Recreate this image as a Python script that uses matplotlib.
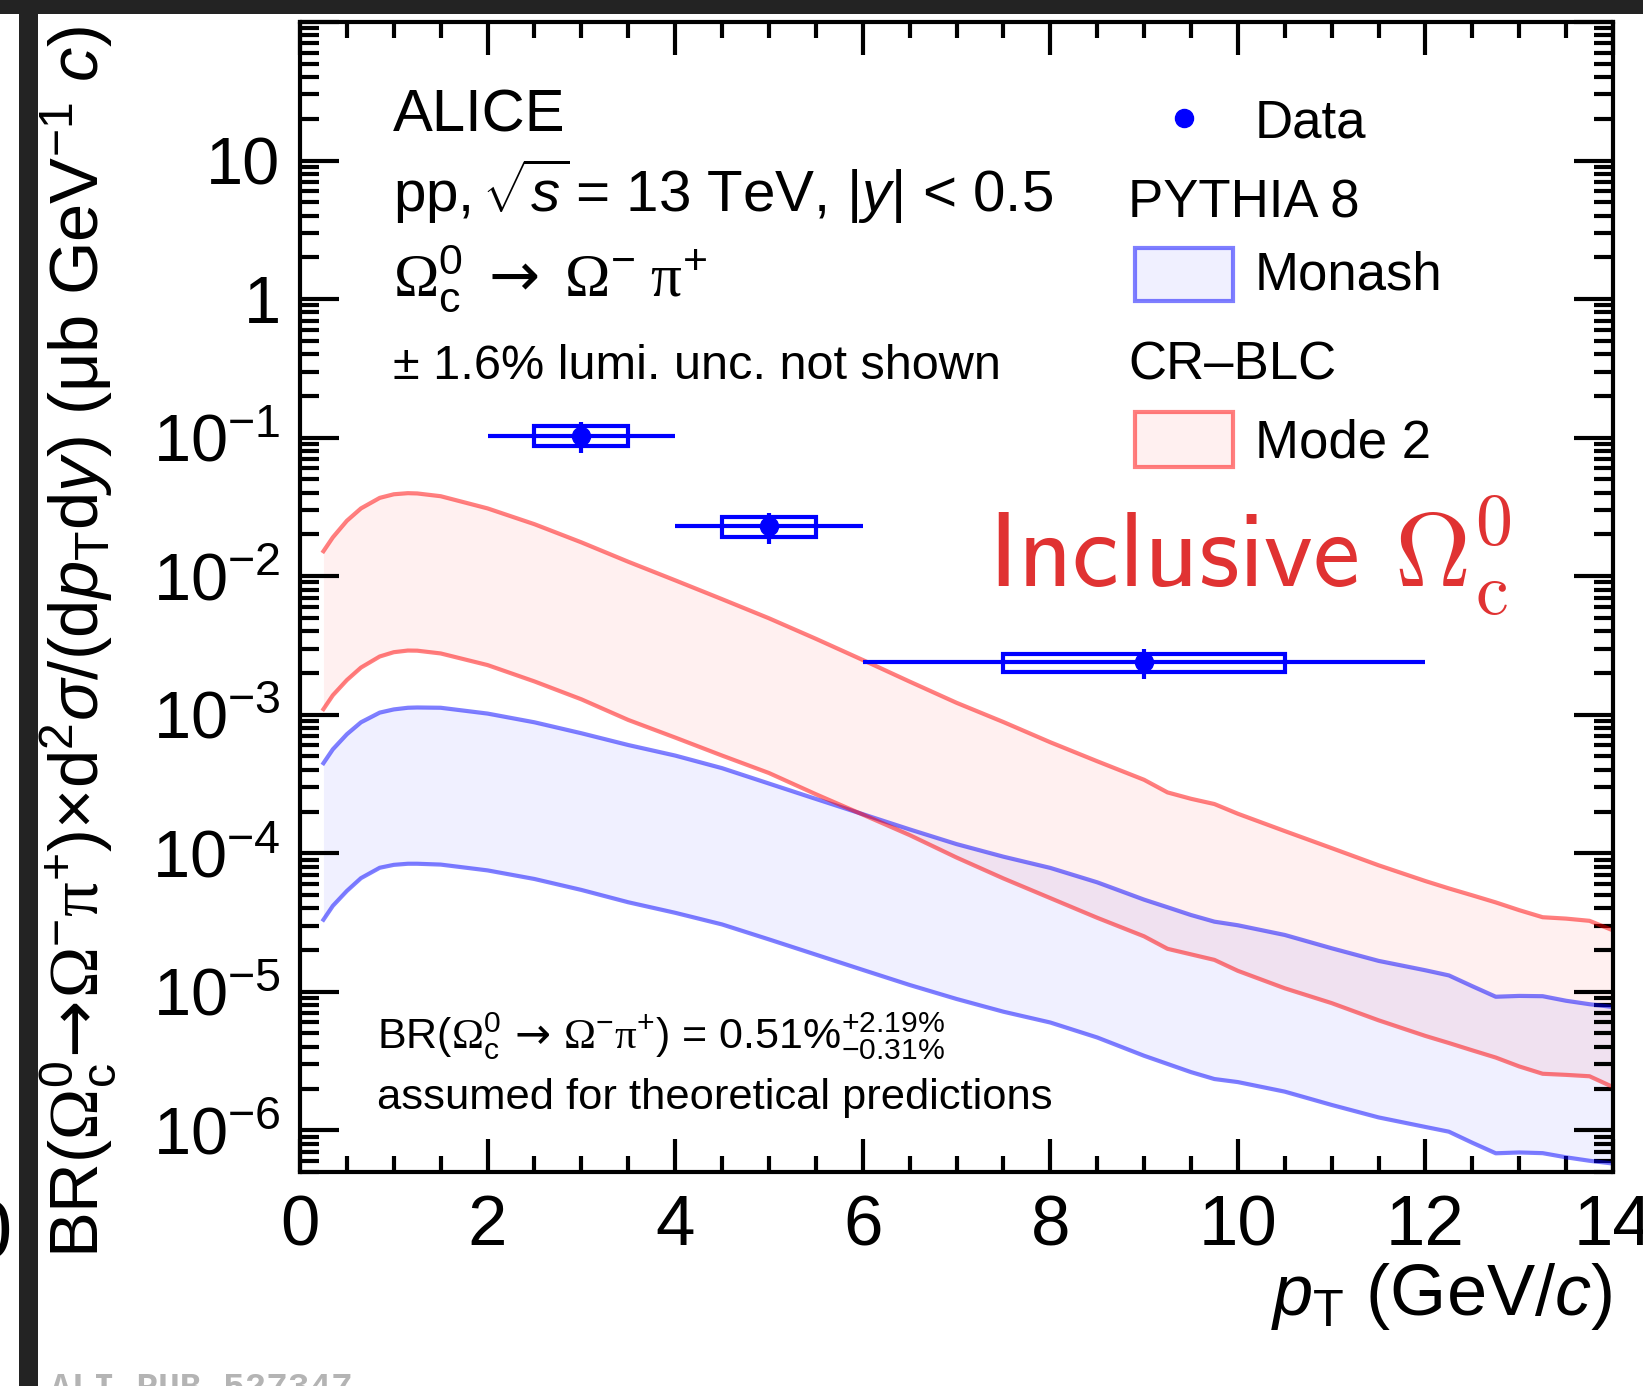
import numpy as np
import matplotlib
matplotlib.use("Agg")
import matplotlib.pyplot as plt
from matplotlib.patches import Rectangle
from matplotlib.ticker import FixedLocator, FuncFormatter, LogLocator, NullFormatter

plt.rcParams['font.family'] = ['Liberation Sans', 'DejaVu Sans']
plt.rcParams['mathtext.fontset'] = 'custom'
plt.rcParams['mathtext.rm'] = 'Liberation Serif'
plt.rcParams['mathtext.sf'] = 'Liberation Sans'
plt.rcParams['mathtext.it'] = 'Liberation Sans:italic'
plt.rcParams['mathtext.bf'] = 'Liberation Sans:bold'
plt.rcParams['mathtext.cal'] = 'DejaVu Sans'
plt.rcParams['mathtext.default'] = 'sf'

# ---------------- data ----------------
data_pt = [3.0, 5.0, 9.0]
data_pt_lo = [2.0, 4.0, 6.0]
data_pt_hi = [4.0, 6.0, 12.0]
data_val = [0.1035, 0.0229, 0.0024]
data_stat = [0.026, 0.0057, 0.0006]
data_syst = [0.017, 0.0037, 0.00036]
data_syst_halfwidth = [0.5, 0.5, 1.5]

model_pt = [0.25, 0.35, 0.5, 0.65, 0.85, 1.0, 1.15, 1.25, 1.5, 2.0, 2.5, 3.0, 3.5,
            4.0, 4.5, 5.0, 5.5, 6.0, 6.5, 7.0, 7.5, 8.0, 8.5, 9.0, 9.25, 9.5,
            9.75, 10.0, 10.5, 11.0, 11.5, 12.0, 12.25, 12.5, 12.75, 13.0, 13.25,
            13.5, 13.75, 14.0]
# log10 of the cross section
crblc_hi_log10 = [-1.82, -1.72, -1.60, -1.511, -1.435, -1.409, -1.401, -1.403, -1.423,
                  -1.511, -1.625, -1.756, -1.896, -2.030, -2.166, -2.304, -2.452,
                  -2.605, -2.761, -2.914, -3.053, -3.199, -3.336, -3.470, -3.561,
                  -3.607, -3.645, -3.715, -3.840, -3.963, -4.087, -4.201, -4.254,
                  -4.304, -4.355, -4.411, -4.462, -4.472, -4.488, -4.557]
crblc_lo_log10 = [-2.96, -2.86, -2.75, -2.66, -2.58, -2.549, -2.537, -2.538, -2.558,
                  -2.642, -2.760, -2.889, -3.038, -3.165, -3.295, -3.421, -3.574,
                  -3.721, -3.869, -4.031, -4.182, -4.324, -4.466, -4.600, -4.690,
                  -4.730, -4.770, -4.849, -4.975, -5.082, -5.206, -5.319, -5.370,
                  -5.423, -5.475, -5.539, -5.592, -5.600, -5.610, -5.688]
monash_hi_log10 = [-3.35, -3.25, -3.141, -3.055, -2.985, -2.962, -2.950, -2.948, -2.950,
                   -2.992, -3.055, -3.134, -3.219, -3.295, -3.386, -3.497, -3.608,
                   -3.718, -3.828, -3.934, -4.025, -4.106, -4.210, -4.335, -4.390,
                   -4.446, -4.494, -4.520, -4.590, -4.686, -4.777, -4.845, -4.882,
                   -4.960, -5.036, -5.030, -5.032, -5.065, -5.090, -5.110]
monash_lo_log10 = [-4.48, -4.38, -4.272, -4.180, -4.105, -4.084, -4.076, -4.076, -4.082,
                   -4.124, -4.186, -4.265, -4.354, -4.430, -4.514, -4.622, -4.732,
                   -4.842, -4.951, -5.052, -5.144, -5.222, -5.330, -5.462, -5.521,
                   -5.580, -5.630, -5.652, -5.721, -5.817, -5.907, -5.976, -6.010,
                   -6.090, -6.166, -6.160, -6.165, -6.195, -6.220, -6.240]

xtick_vals = [0, 2, 4, 6, 8, 10, 12, 14]

# ---------------- figure ----------------
W, H = 1643, 1386
fig = plt.figure(figsize=(W / 100, H / 100), dpi=100)
fig.patch.set_facecolor('white')
ax = fig.add_axes([300 / W, (H - 1172) / H, 1313 / W, 1150 / H])

BLUE_LINE = (0, 0, 1, 0.5)
BLUE_FILL = (0, 0, 1, 0.06)
RED_LINE = (1, 0, 0, 0.5)
RED_FILL = (1, 0, 0, 0.06)

mp = np.array(model_pt)
m_hi = 10 ** np.array(monash_hi_log10)
m_lo = 10 ** np.array(monash_lo_log10)
c_hi = 10 ** np.array(crblc_hi_log10)
c_lo = 10 ** np.array(crblc_lo_log10)

ax.fill_between(mp, m_lo, m_hi, color=BLUE_FILL, lw=0, zorder=1)
ax.fill_between(mp, c_lo, c_hi, color=RED_FILL, lw=0, zorder=1)
for arr, col in [(m_hi, BLUE_LINE), (m_lo, BLUE_LINE), (c_hi, RED_LINE), (c_lo, RED_LINE)]:
    ax.plot(mp, arr, color=col, lw=3, solid_joinstyle='round', zorder=2)

# data: systematic boxes
for x, y, s, hw in zip(data_pt, data_val, data_syst, data_syst_halfwidth):
    ax.add_patch(Rectangle((x - hw, y - s), 2 * hw, 2 * s, fill=False,
                           edgecolor='blue', lw=3, zorder=4))
xerr = [np.array(data_pt) - np.array(data_pt_lo), np.array(data_pt_hi) - np.array(data_pt)]
ax.errorbar(data_pt, data_val, xerr=xerr, yerr=data_stat, fmt='o', color='blue',
            ms=13, elinewidth=3, capsize=0, zorder=5)

ax.set_yscale('log')
ax.set_xlim(0, 14)
ax.set_ylim(5e-7, 100)

ax.xaxis.set_major_locator(FixedLocator(xtick_vals))
ax.xaxis.set_minor_locator(FixedLocator(np.arange(0, 14.01, 0.5)))
ax.xaxis.set_major_formatter(FuncFormatter(lambda v, p: f"{int(round(v))}"))
ax.yaxis.set_major_locator(LogLocator(base=10, numticks=20))
ax.yaxis.set_minor_locator(LogLocator(base=10, subs=np.arange(2, 10), numticks=20))
ax.yaxis.set_minor_formatter(NullFormatter())


def yfmt(v, pos):
    e = int(round(np.log10(v)))
    if e >= 2:
        return ''
    if e == 1:
        return '10'
    if e == 0:
        return '1'
    return f'$10^{{{e}}}$'


ax.yaxis.set_major_formatter(FuncFormatter(yfmt))

for sp in ax.spines.values():
    sp.set_linewidth(3)
ax.tick_params(which='both', direction='in', top=True, right=True, width=3, color='black')
ax.tick_params(axis='x', which='major', length=24, labelsize=51, pad=16)
ax.tick_params(axis='x', which='minor', length=11.5)
ax.tick_params(axis='y', which='major', length=28, labelsize=48, pad=14)
ax.tick_params(axis='y', which='minor', length=14)


def axpos(px, py):
    return ((px - 300) / 1313, (1172 - py) / 1150)


ARROW = r'\mathcal{\rightarrow}'

# text block
T = ax.transAxes
ax.text(*axpos(393, 131), 'ALICE', transform=T, fontsize=43, va='baseline', ha='left')
ax.text(*axpos(393, 212), r'pp, $\!\sqrt{\mathit{s}}\!$ = 13 TeV, |$\mathit{y}$| < 0.5',
        transform=T, fontsize=42, va='baseline', ha='left')
ax.text(*axpos(393, 296),
        r'$\mathrm{\Omega}_{\mathsf{c}}^{0}\;' + ARROW + r'\;\mathrm{\Omega}^{-}\;\mathrm{\pi}^{+}$',
        transform=T, fontsize=44, va='baseline', ha='left')
ax.text(*axpos(393, 379), '± 1.6% lumi. unc. not shown', transform=T, fontsize=35,
        va='baseline', ha='left')

# legend
ax.plot([axpos(1184, 118)[0]], [axpos(1184, 118)[1]], 'o', color='blue', ms=13,
        transform=T, clip_on=False, zorder=6)
ax.text(*axpos(1255, 138), 'Data', transform=T, fontsize=38, va='baseline', ha='left')
ax.text(*axpos(1128, 217), 'PYTHIA 8', transform=T, fontsize=38, va='baseline', ha='left')
bx0, by0 = axpos(1135, 301)
bx1, by1 = axpos(1233, 248)
ax.add_patch(Rectangle((bx0, by0), bx1 - bx0, by1 - by0, transform=T, facecolor=BLUE_FILL,
                       edgecolor=BLUE_LINE, lw=3, clip_on=False))
ax.text(*axpos(1255, 290), 'Monash', transform=T, fontsize=38, va='baseline', ha='left')
ax.text(*axpos(1128, 379), 'CR–BLC', transform=T, fontsize=38, va='baseline', ha='left')
bx0, by0 = axpos(1135, 467)
bx1, by1 = axpos(1233, 412)
ax.add_patch(Rectangle((bx0, by0), bx1 - bx0, by1 - by0, transform=T, facecolor=RED_FILL,
                       edgecolor=RED_LINE, lw=3, clip_on=False))
ax.text(*axpos(1255, 458), 'Mode 2', transform=T, fontsize=38, va='baseline', ha='left')

# Inclusive label
ax.text(*axpos(988, 587), r'Inclusive $\Omega^{0}_{\mathrm{c}}$', transform=T,
        fontsize=76, color='#e03232', family='cmss10', math_fontfamily='cm',
        va='baseline', ha='left')

# BR note
ax.text(*axpos(377, 1048),
        r'BR($\mathrm{\Omega}_{\mathsf{c}}^{0}\,' + ARROW + r'\,\mathrm{\Omega}^{-}\mathrm{\pi}^{+}$) = $0.51\%^{+2.19\%}_{-0.31\%}$',
        transform=T, fontsize=31, va='baseline', ha='left')
ax.text(*axpos(377, 1109), 'assumed for theoretical predictions', transform=T,
        fontsize=31.3, va='baseline', ha='left')

# axis titles
fig.text(79 / W, 1 - 26 / H,
         r'BR($\mathrm{\Omega}_{\mathsf{c}}^{0}\!' + ARROW + r'\!\mathrm{\Omega}^{-}\mathrm{\pi}^{+}$)×d$^{2}\mathit{\sigma}$/(d$\mathit{p}_{\mathsf{T}}$d$\mathit{y}$) (μb GeV$^{-1}$ $\mathit{c}$)',
         rotation=90, ha='center', va='top', fontsize=49.5)
fig.text(1612 / W, (H - 1315) / H, r'$\mathit{p}_{\mathsf{T}}$ (GeV/$\mathit{c}$)',
         ha='right', va='baseline', fontsize=52)

# screenshot frame elements
fig.patches.append(Rectangle((0, 1 - 14 / H), 1, 14 / H, transform=fig.transFigure,
                             facecolor='#232323', edgecolor='none', zorder=10))
fig.patches.append(Rectangle((19 / W, 0), 19 / W, 1, transform=fig.transFigure,
                             facecolor='#232323', edgecolor='none', zorder=10))
fig.text(-11 / W, (H - 1258) / H, '0', fontsize=60, ha='center', va='baseline')
fig.text(50 / W, 1 - 1371 / H, 'ALI-PUB-527347', fontsize=26, family='Liberation Mono',
         fontweight='bold', color='#b4b4b4', ha='left', va='top')

fig.savefig('out.png', dpi=100)
